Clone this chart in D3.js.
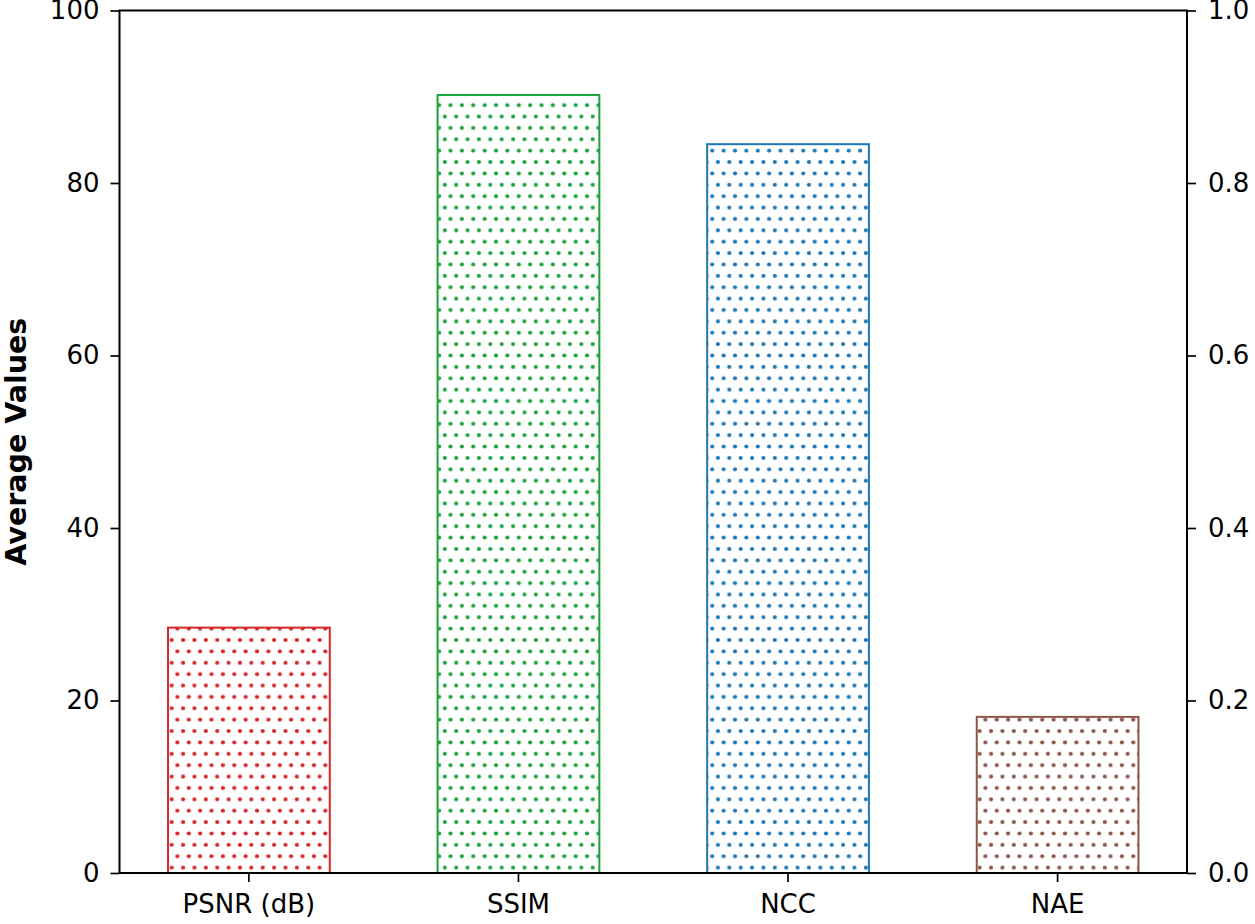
<!DOCTYPE html>
<html>
<head>
<meta charset="utf-8">
<script src="https://cdn.jsdelivr.net/npm/d3@7"></script>
<style>
  body { margin: 0; background: #fff; }
  text { font-family: "DejaVu Sans", sans-serif; }
</style>
</head>
<body>
<svg id="chart" width="1255" height="924"></svg>
<script>
// chart data
const metrics = ["PSNR (dB)", "SSIM", "NCC", "NAE"];
const averages = [28.45, 90.2, 84.5, 18.1];   // left axis units
const colors = ["#d62728", "#1ca33c", "#1f77b4", "#8c564b"];
const leftTicks = [0, 20, 40, 60, 80, 100];
const rightTicks = [0, 0.2, 0.4, 0.6, 0.8, 1.0];

const svg = d3.select('#chart');

const plotLeft = 119.5, plotRight = 1187, plotTop = 10.5, plotBottom = 873;
const tickLen = 9;

const x = d3.scaleBand()
    .domain(metrics)
    .range([plotLeft, plotRight])
    .paddingInner(0.4)
    .paddingOuter(0.18);

const y = d3.scaleLinear().domain([0, 100]).range([plotBottom, plotTop]);
const y2 = d3.scaleLinear().domain([0, 1]).range([plotBottom, plotTop]);

// dotted hatch, one pattern per colour, anchored to the figure
const dot = 11.38;
const defs = svg.append('defs');
colors.forEach((c, i) => {
    const p = defs.append('pattern')
        .attr('id', 'dots' + i)
        .attr('patternUnits', 'userSpaceOnUse')
        .attr('x', 171.7)
        .attr('y', 640)
        .attr('width', dot)
        .attr('height', dot * 2);
    p.append('rect').attr('width', dot).attr('height', dot * 2).attr('fill', '#fff');
    [[0, 0], [dot, 0], [0, dot * 2], [dot, dot * 2], [dot / 2, dot]].forEach(([cx, cy]) => {
        p.append('circle').attr('cx', cx).attr('cy', cy).attr('r', 2.1).attr('fill', c);
    });
});

svg.append('g').selectAll('rect')
    .data(metrics)
    .enter()
    .append('rect')
    .attr('x', d => x(d))
    .attr('y', (d, i) => y(averages[i]))
    .attr('width', x.bandwidth())
    .attr('height', (d, i) => y(0) - y(averages[i]))
    .attr('fill', (d, i) => `url(#dots${i})`)
    .attr('stroke', (d, i) => colors[i])
    .attr('stroke-width', 2);

const styleAxis = (g) => {
    g.select('.domain').remove();
    g.selectAll('.tick line').attr('stroke', '#000').attr('stroke-width', 1.7);
    g.selectAll('.tick text').attr('fill', '#000').style('font-size', '26px');
};

svg.append('g')
    .attr('transform', `translate(${plotLeft},0)`)
    .call(d3.axisLeft(y).tickValues(leftTicks).tickSize(tickLen).tickPadding(11))
    .call(styleAxis);

svg.append('g')
    .attr('transform', `translate(${plotRight},0)`)
    .call(d3.axisRight(y2).tickValues(rightTicks).tickFormat(d3.format('.1f')).tickSize(tickLen).tickPadding(12))
    .call(styleAxis);

svg.append('g')
    .attr('transform', `translate(0,${plotBottom})`)
    .call(d3.axisBottom(x).tickSize(tickLen).tickPadding(13))
    .call(styleAxis);

// box
svg.append('rect')
    .attr('x', plotLeft)
    .attr('y', plotTop)
    .attr('width', plotRight - plotLeft)
    .attr('height', plotBottom - plotTop)
    .attr('fill', 'none')
    .attr('stroke', '#000')
    .attr('stroke-width', 2);

svg.append('text')
    .attr('transform', `translate(25.5,${(plotTop + plotBottom) / 2}) rotate(-90)`)
    .attr('text-anchor', 'middle')
    .style('font-size', '28.5px')
    .style('font-weight', 'bold')
    .text('Average Values');
</script>
</body>
</html>
